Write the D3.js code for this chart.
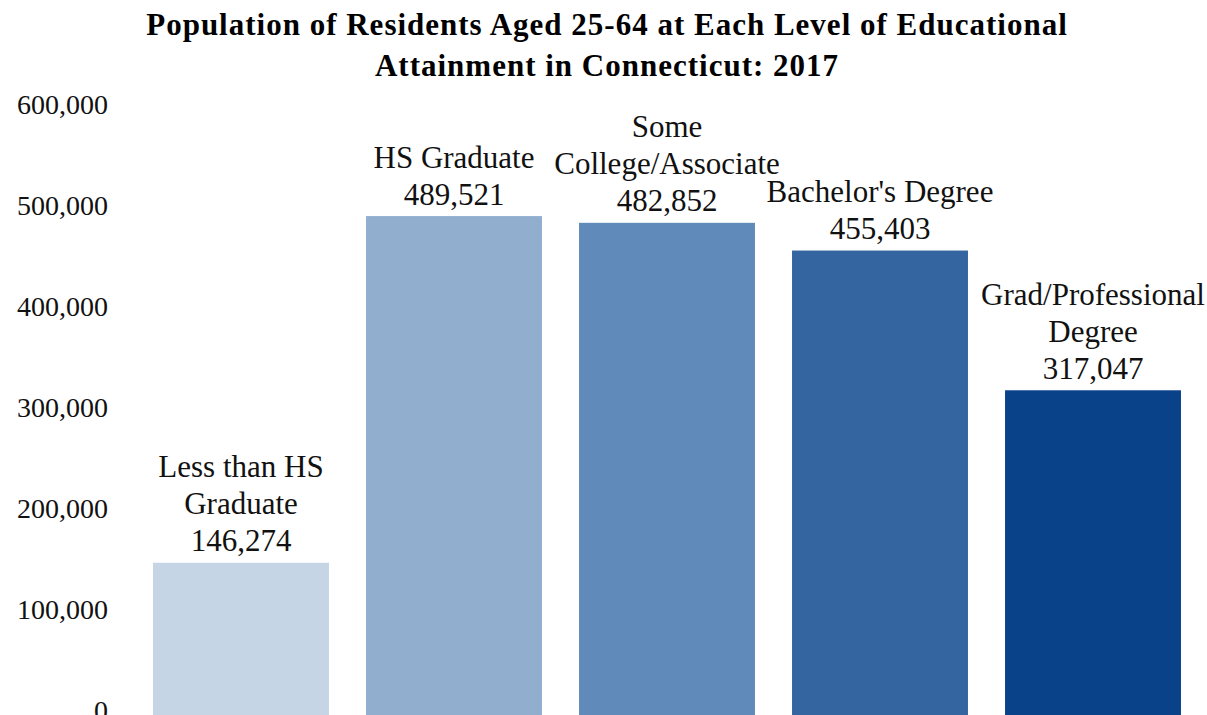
<!DOCTYPE html>
<html>
<head>
<meta charset="utf-8">
<script src="https://cdn.jsdelivr.net/npm/d3@7"></script>
<style>
  html, body { margin: 0; padding: 0; background: #fff; overflow: hidden; }
  svg { display: block; }
</style>
</head>
<body>
<svg id="chart" width="1207" height="715"></svg>
<script>
const titleLines = ["Population of Residents Aged 25-64 at Each Level of Educational", "Attainment in Connecticut: 2017"];
const categories = ["Less than HS Graduate", "HS Graduate", "Some College/Associate", "Bachelor's Degree", "Grad/Professional Degree"];
const labelLines = [["Less than HS", "Graduate"], ["HS Graduate"], ["Some", "College/Associate"], ["Bachelor's Degree"], ["Grad/Professional", "Degree"]];
const values = [146274, 489521, 482852, 455403, 317047];
const colors = ["#c6d5e6", "#91aecf", "#5f8aba", "#3465a0", "#0a428a"];
const yTicks = [0, 100000, 200000, 300000, 400000, 500000, 600000];

const svg = d3.select("#chart");
const font = "'Liberation Serif', 'Times New Roman', serif";

const x = d3.scaleBand().domain(categories).range([134.5, 1199.5]).paddingInner(0.174).paddingOuter(0.087);
const y = d3.scaleLinear().domain([0, 600000]).range([710.5, 104.5]);
const fmt = d3.format(",");

// title
svg.append("text")
  .attr("text-anchor", "middle")
  .style("font-family", font).style("font-weight", "bold").style("font-size", "31px")
  .style("letter-spacing", "1px")
  .selectAll("tspan").data(titleLines).join("tspan")
  .attr("x", 607).attr("y", (d, i) => i === 0 ? 35 : 76)
  .text(d => d);

// y axis
const yAxis = d3.axisLeft(y).tickValues(yTicks).tickFormat(fmt).tickSize(0).tickPadding(0);
const ga = svg.append("g").attr("transform", "translate(108,0)").call(yAxis);
ga.select(".domain").remove();
ga.selectAll("text")
  .style("font-family", font).style("font-size", "28px").style("fill", "#111")
  .attr("dy", "0.33em");

// bars
svg.append("g").selectAll("rect").data(categories).join("rect")
  .attr("x", d => x(d))
  .attr("width", x.bandwidth())
  .attr("y", (d, i) => y(values[i]))
  .attr("height", (d, i) => y(0) - y(values[i]) + 10)
  .attr("fill", (d, i) => colors[i]);

// labels
const lg = svg.append("g");
categories.forEach((c, i) => {
  const lines = labelLines[i].concat([fmt(values[i])]);
  const base = y(values[i]) - 11.5;
  const t = lg.append("text")
    .attr("text-anchor", "middle")
    .style("font-family", font).style("font-size", "31px").style("fill", "#111");
  lines.forEach((ln, j) => {
    t.append("tspan")
      .attr("x", x(c) + x.bandwidth() / 2)
      .attr("y", base - (lines.length - 1 - j) * 37)
      .text(ln);
  });
});
</script>
</body>
</html>
